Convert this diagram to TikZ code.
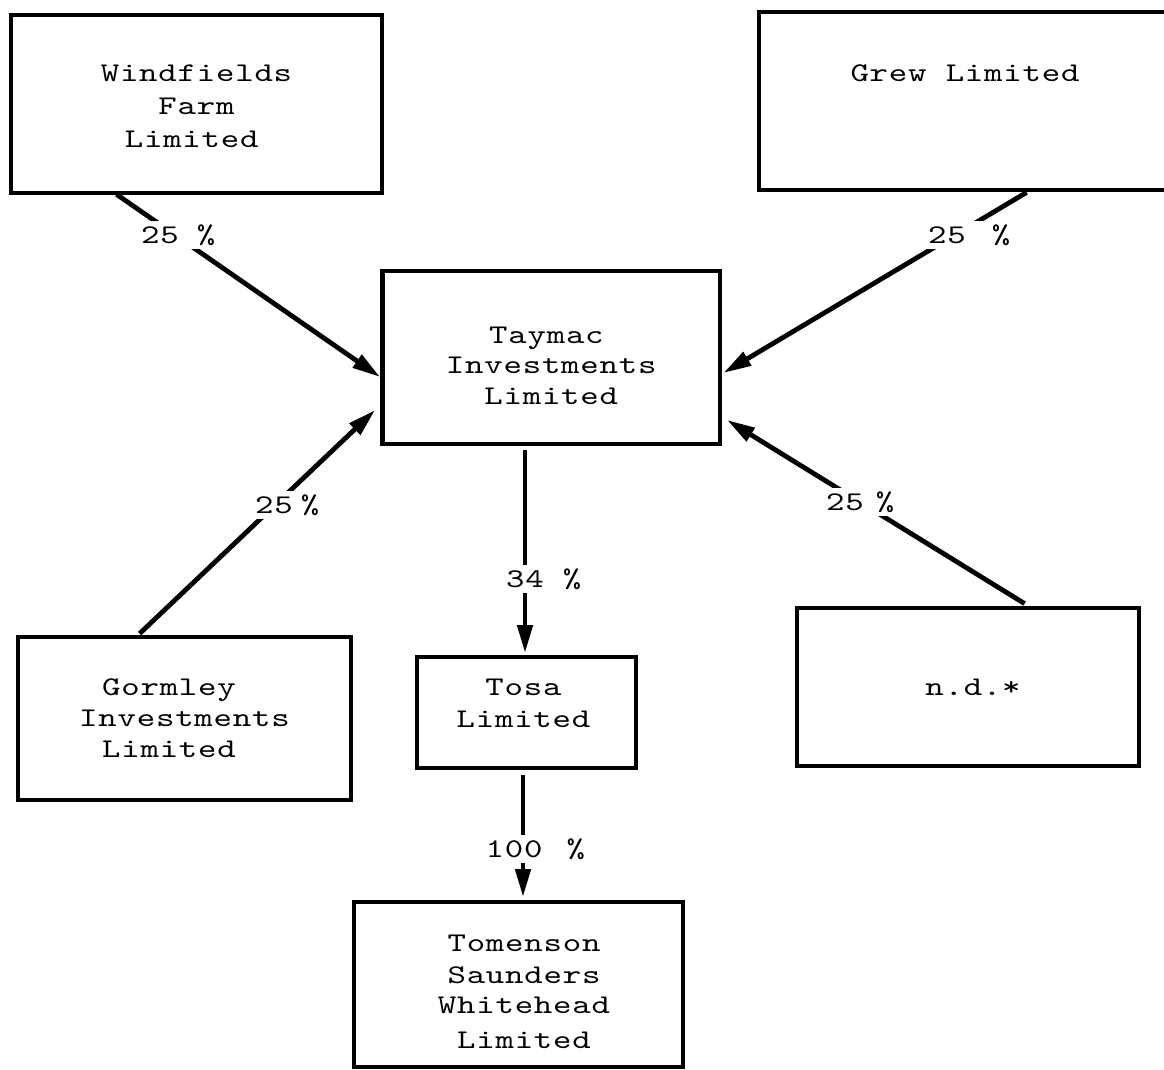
\documentclass[tikz,border=0pt]{standalone}
\usepackage{fontspec}
\newfontfamily\twfont{lmmono10-regular}[Extension=.otf, FakeStretch=1.3, LetterSpace=2.9]
\usetikzlibrary{arrows.meta,calc}
\tikzset{
  typed/.style={font=\twfont\fontsize{27pt}{31.5pt}\selectfont},
  firm/.style={typed, draw, line width=4.8pt, rectangle, inner sep=0pt, align=center},
  holding/.style={line width=4.8pt, -{Triangle[length=28pt,width=15pt]}},
  share/.style={typed, fill=white, inner xsep=3pt, inner ysep=6pt,
    text height=16pt, text depth=0pt, anchor=base west},
}
\begin{document}
\begin{tikzpicture}[x=1pt,y=-1pt]
\useasboundingbox (0,0) rectangle (1164,1070);

% companies
\node[firm, minimum width=371pt, minimum height=178pt] (wind) at (196.5,104)
  {\rule{0pt}{22pt}Windfields\\[1.5pt]Farm\\[1.5pt]Limited\hspace*{9.6pt}};
\node[firm, minimum width=412pt, minimum height=178pt, text height=16pt, text depth=54pt]
  (grew) at (965,101) {Grew Limited};
\node[firm, minimum width=337.5pt, minimum height=173pt] (tay) at (551.25,357.5)
  {\rule{0pt}{33pt}Taymac\hspace*{9.6pt}\\[-1pt]Investments\\[-1pt]Limited};
\node[firm, minimum width=333pt, minimum height=163pt] (gorm) at (184.5,718.5)
  {Gormley\hspace*{31pt}\\[-0.5pt]Investments\hspace*{31pt}\\[-0.5pt]Limited\hspace*{31pt}};
\node[firm, minimum width=219pt, minimum height=111pt] (tosa) at (526.5,712.5)
  {Tosa\hspace*{6pt}\\[0.5pt]Limited\hspace*{6pt}\rule[-19pt]{0pt}{0pt}};
\node[firm, minimum width=342pt, minimum height=158pt] (nd) at (968,687)
  {\hspace*{10pt}n.d.*};
\node[firm, minimum width=329pt, minimum height=165pt] (tom) at (518.5,984.5)
  {\rule{0pt}{32pt}\hspace*{11pt}Tomenson\\[0.5pt]\hspace*{11pt}Saunders\\[-1.5pt]%
   \hspace*{11pt}Whitehead\\[3.5pt]\hspace*{11pt}Limited};

% shareholdings
\draw[holding] ($(wind.south west)+(108,-1)$) -- ($(tay.west)+(0,19.5)$);
\draw[holding] ($(grew.south west)+(270,0)$) -- ($(tay.east)+(1,15.5)$);
\draw[holding] ($(gorm.north west)+(124,-1)$) -- ($(tay.west)+(-5,52.5)$);
\draw[holding] ($(nd.north west)+(230,-2)$) -- ($(tay.east)+(4.6,62.5)$);
\draw[holding] ($(tay.south)+(-26.25,3.6)$) -- ($(tosa.north)+(-1.5,-1.6)$);
\draw[holding] ($(tosa.south)+(-3.5,4.6)$) -- ($(tom.north)+(4.5,-2.6)$);

% percentages
\node[share] (p1) at (138,243) {25\hspace{18pt}\%};
\node[share] (p2) at (925,243) {25\hspace{26pt}\%};
\node[share] (p3) at (252,513) {25\hspace{8pt}\%};
\node[share] (p4) at (823,510) {25\hspace{12pt}\%};
\node[share] (p5) at (503,587) {34\hspace{19pt}\%};
\node[share] (p6) at (482.5,857) {100\hspace{24pt}\%};
\end{tikzpicture}
\end{document}
